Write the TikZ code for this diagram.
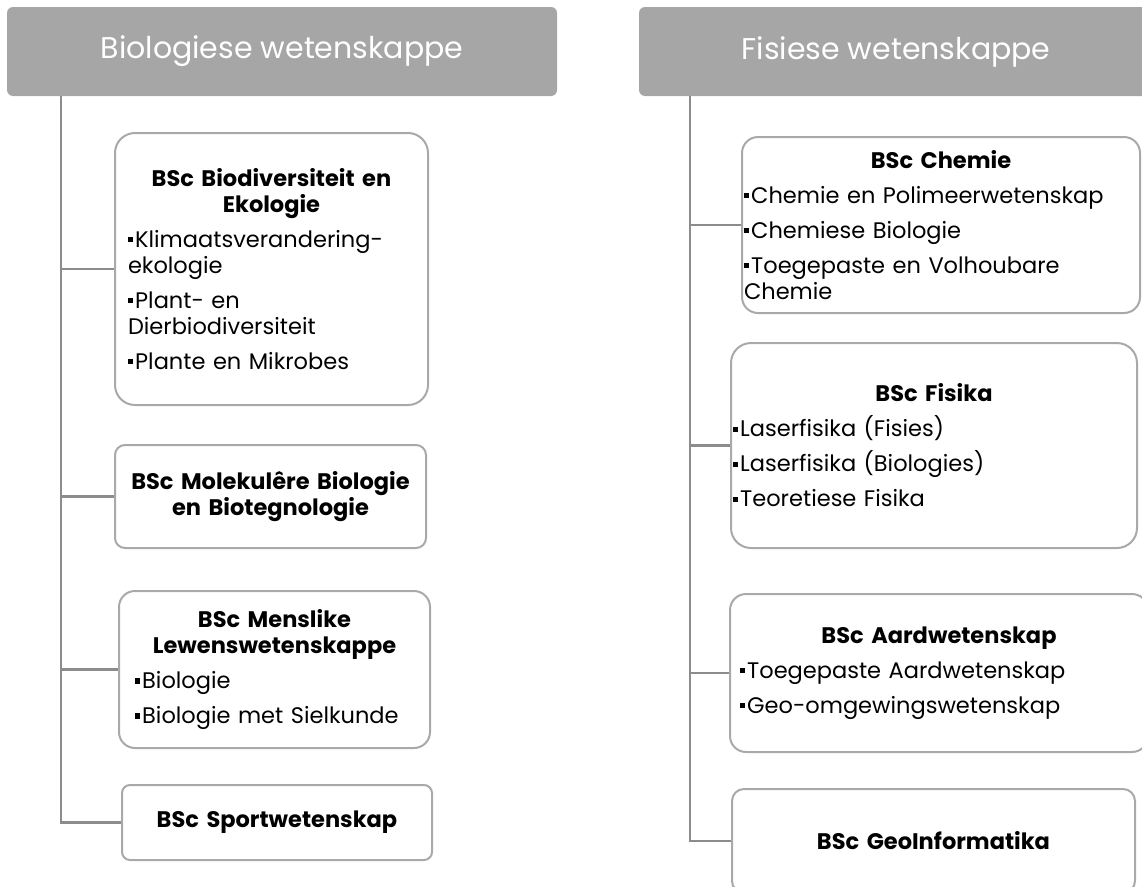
\documentclass[tikz,border=0pt]{standalone}
\usepackage{fontspec}
\setmainfont{Poppins}
\definecolor{hdrgray}{HTML}{A6A6A6}
\definecolor{boxgray}{HTML}{A9A9A9}
\definecolor{linegray}{HTML}{8C8C8C}
\newcommand\sqb{\raisebox{0.22em}{\rule{0.24em}{0.24em}}\hspace{0.08em}}
\newcommand\ttl[1]{{\centering\bfseries #1\par}}
\newcommand\itm[1]{{\raggedright\sqb #1\par}}
\tikzset{
  hdr/.style={fill=hdrgray, rounded corners=6pt, text=white, font=\fontsize{30}{36}\selectfont, minimum height=89pt, inner sep=0pt},
  prog/.style={draw=boxgray, line width=2pt, fill=white, inner ysep=0pt, font=\fontsize{22.5}{26}\selectfont, execute at begin node={\setlength{\parskip}{9pt}}},
  conn/.style={draw=linegray, line width=2.5pt}
}
\begin{document}
\begin{tikzpicture}[x=1pt,y=-1pt]
\useasboundingbox (0,0) rectangle (1142,886);
\clip (0,0) rectangle (1142,886);
% headers
\node[hdr, minimum width=550pt] (lh) at (282,51.5) {Biologiese wetenskappe};
\node[hdr, minimum width=514pt] (rh) at (896,51.5) {Fisiese wetenskappe};
% left column
\node[prog, rounded corners=20pt, inner xsep=13pt, text width=287pt, minimum width=313pt, minimum height=272pt] (biod) at (271.5,269)
  {\ttl{BSc Biodiversiteit en\\Ekologie}\itm{Klimaatsverandering-\\ekologie}\itm{Plant- en\\Dierbiodiversiteit}\itm{Plante en Mikrobes}};
\node[prog, rounded corners=10pt, inner xsep=8pt, text width=295pt, minimum width=311pt, minimum height=103pt] (molek) at (270.5,496.5)
  {\ttl{BSc Molekulêre Biologie\\en Biotegnologie}};
\node[prog, rounded corners=16pt, inner xsep=16pt, text width=279pt, minimum width=311pt, minimum height=157pt] (mens) at (274.5,669.5)
  {\ttl{BSc Menslike\\Lewenswetenskappe}\itm{Biologie}\itm{Biologie met Sielkunde}};
\node[prog, rounded corners=8pt, inner xsep=8pt, text width=294pt, minimum width=310pt, minimum height=75pt] (sport) at (277,822.5)
  {\ttl{BSc Sportwetenskap}};
% right column
\node[prog, rounded corners=16pt, inner xsep=2pt, text width=394pt, minimum width=398pt, minimum height=176pt] (chem) at (941,225)
  {\ttl{BSc Chemie}\itm{Chemie en Polimeerwetenskap}\itm{Chemiese Biologie}\itm{Toegepaste en Volhoubare\\Chemie}};
\node[prog, rounded corners=20pt, inner xsep=2pt, text width=402pt, minimum width=406pt, minimum height=205pt] (fis) at (934,445.5)
  {\ttl{BSc Fisika}\itm{Laserfisika (Fisies)}\itm{Laserfisika (Biologies)}\itm{Teoretiese Fisika}};
\node[prog, rounded corners=16pt, inner xsep=10pt, text width=398pt, minimum width=418pt, minimum height=158pt] (aard) at (939,673)
  {\ttl{BSc Aardwetenskap}\itm{Toegepaste Aardwetenskap}\itm{Geo-omgewingswetenskap}};
\node[prog, rounded corners=12pt, inner xsep=8pt, text width=387pt, minimum width=403pt, minimum height=104pt] (geo) at (933.5,841)
  {\ttl{BSc GeoInformatika}};
% connectors
\coordinate (lt) at (61,96);
\draw[conn] (lt) |- (sport.west);
\foreach \n in {biod,molek,mens} \draw[conn] (lt |- \n.west) -- (\n.west);
\coordinate (rt) at (690,96);
\draw[conn] (rt) |- (geo.west);
\foreach \n in {chem,fis,aard} \draw[conn] (rt |- \n.west) -- (\n.west);
\end{tikzpicture}
\end{document}
